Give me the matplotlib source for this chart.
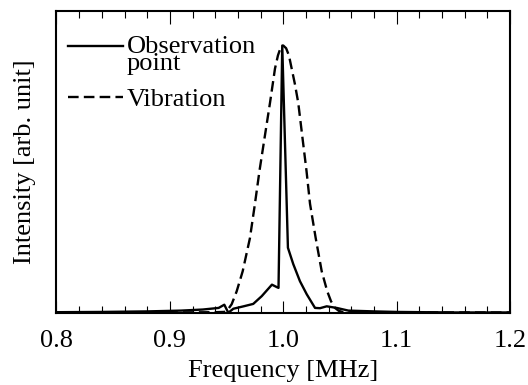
import matplotlib
matplotlib.use("Agg")
import matplotlib.pyplot as plt
from matplotlib.ticker import MultipleLocator

plt.rcParams['font.family'] = ['Liberation Serif', 'DejaVu Serif']
plt.rcParams['mathtext.fontset'] = 'stix'

# ==========================================
# Data
# ==========================================
obs_freq = [0.800, 0.840, 0.880, 0.910, 0.929, 0.943, 0.948, 0.9515, 0.956,
            0.965, 0.9735, 0.981, 0.990, 0.9947, 0.9958, 0.9991, 1.0041,
            1.0088, 1.0147, 1.0207, 1.028, 1.0324, 1.0383, 1.0471, 1.0574,
            1.080, 1.100, 1.150, 1.200]
obs_int = [0.003, 0.004, 0.006, 0.009, 0.013, 0.019, 0.031, 0.001, 0.016,
           0.025, 0.034, 0.063, 0.106, 0.096, 0.094, 1.000, 0.244,
           0.183, 0.119, 0.070, 0.019, 0.018, 0.025, 0.019, 0.009,
           0.006, 0.004, 0.002, 0.002]

vib_freq = [0.800, 0.900, 0.940, 0.948, 0.951, 0.9545, 0.9589, 0.9642,
            0.9706, 0.9750, 0.9790, 0.9838, 0.9883, 0.9927, 0.9953, 0.9975,
            1.000, 1.0025, 1.0050, 1.0074, 1.0103, 1.0132, 1.0167, 1.0205,
            1.0236, 1.0286, 1.0339, 1.0388, 1.0421, 1.0456, 1.049, 1.053,
            1.100, 1.200]
vib_int = [0.002, 0.002, 0.003, 0.004, 0.012, 0.033, 0.081, 0.156,
           0.280, 0.408, 0.531, 0.663, 0.786, 0.914, 0.963, 0.990,
           1.000, 0.990, 0.963, 0.914, 0.855, 0.786, 0.663, 0.531,
           0.408, 0.280, 0.156, 0.081, 0.044, 0.019, 0.008, 0.003,
           0.002, 0.002]

x_ticks = [0.8, 0.9, 1.0, 1.1, 1.2]
x_tick_labels = ['0.8', '0.9', '1.0', '1.1', '1.2']

FS = 19

# ==========================================
# Plot
# ==========================================
fig = plt.figure(figsize=(5.28, 3.85), dpi=100)
ax = fig.add_axes([0.107, 0.187, 0.859, 0.785])

ax.plot(obs_freq, obs_int, color='black', lw=1.7, label='Observation\npoint')
ax.plot(vib_freq, vib_int, color='black', lw=1.7, dashes=(4.5, 2.2), label='Vibration')

ax.set_xlim(0.8, 1.2)
ax.set_ylim(0, 1.13)
ax.set_xticks(x_ticks)
ax.set_xticklabels(x_tick_labels)
ax.xaxis.set_minor_locator(MultipleLocator(0.02))
ax.set_yticks([])
ax.tick_params(axis='x', which='major', direction='in', top=True, length=9, width=0.8,
               labelsize=FS, pad=12.5)
ax.tick_params(axis='x', which='minor', direction='in', top=True, length=5, width=0.8)
for s in ax.spines.values():
    s.set_linewidth(1.5)

ax.set_xlabel('Frequency [MHz]', fontsize=FS, labelpad=5.5)
ax.set_ylabel('Intensity [arb. unit]', fontsize=FS, labelpad=14.5)

leg = ax.legend(loc='upper left', bbox_to_anchor=(0.0075, 0.944), frameon=False,
                fontsize=FS, handlelength=2.1, handletextpad=0.12, borderaxespad=0,
                labelspacing=0.5, borderpad=0.3)
leg.get_texts()[0].set_linespacing(0.7)
# put the solid handle next to the first text line
h0 = leg.legend_handles[0]
h0.set_ydata([y + 0.3 * FS for y in h0.get_ydata()])

fig.savefig('out.png', dpi=100)
